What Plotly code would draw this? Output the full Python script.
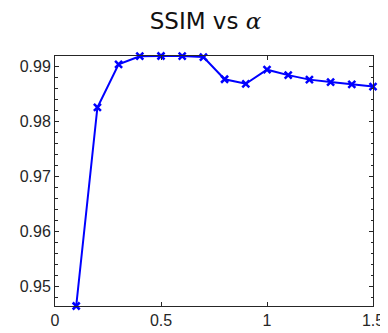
import plotly.graph_objects as go

alpha = [0.1, 0.2, 0.3, 0.4, 0.5, 0.6, 0.7, 0.8, 0.9, 1.0, 1.1, 1.2, 1.3, 1.4, 1.5]
ssim = [0.94652, 0.98256, 0.99040, 0.99186, 0.99190, 0.99189, 0.99170, 0.98768,
        0.98686, 0.98942, 0.98843, 0.98761, 0.98716, 0.98674, 0.98634]
x_ticks = [0, 0.5, 1, 1.5]
x_tick_text = ["0", "0.5", "1", "1.5"]
y_ticks = [0.95, 0.96, 0.97, 0.98, 0.99]
y_tick_text = ["0.95", "0.96", "0.97", "0.98", "0.99"]

axis_col = "#262626"
fig = go.Figure()
fig.add_trace(go.Scatter(
    x=alpha, y=ssim, mode="lines+markers",
    line=dict(color="#0000ff", width=2),
    marker=dict(symbol="x-thin", size=7, color="#0000ff",
                line=dict(color="#0000ff", width=2.5)),
    cliponaxis=False, showlegend=False,
))

fig.update_layout(
    width=388, height=333,
    margin=dict(l=45, r=13, t=48, b=24),
    paper_bgcolor="white", plot_bgcolor="white",
    font=dict(family="Liberation Sans, Arial, sans-serif", size=16, color=axis_col),
    title=dict(
        text="SSIM vs <span style=\"font-family:'DejaVu Serif'\"><i>α</i></span>",
        x=0.509, xanchor="center", y=0.962, yanchor="middle",
        font=dict(family="DejaVu Sans, sans-serif", size=23, color="#111111"),
    ),
)
fig.update_xaxes(
    range=[0, 1.5], tickvals=x_ticks, ticktext=x_tick_text,
    showline=True, linecolor=axis_col, linewidth=1, mirror="ticks",
    ticks="inside", ticklen=4, tickcolor=axis_col, showgrid=False, zeroline=False,
)
fig.update_yaxes(
    range=[min(ssim), max(ssim)], tickvals=y_ticks, ticktext=y_tick_text,
    showline=True, linecolor=axis_col, linewidth=1, mirror="ticks",
    ticks="inside", ticklen=4, tickcolor=axis_col, showgrid=False, zeroline=False,
    minor=dict(ticks="inside", dtick=0.002, tick0=0.95, ticklen=2.5, tickcolor=axis_col, showgrid=False),
)
fig.write_html("out.html")
